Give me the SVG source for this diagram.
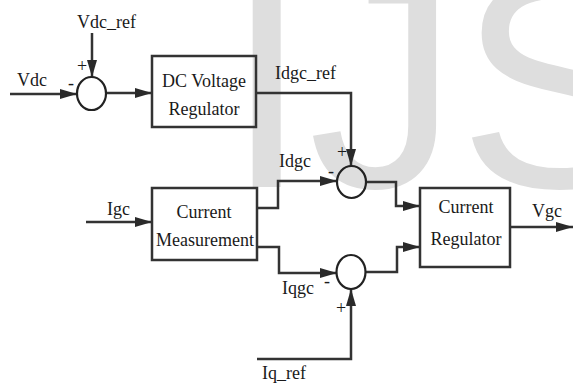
<svg xmlns="http://www.w3.org/2000/svg" width="573" height="390" viewBox="0 0 573 390">
  <defs>
    <marker id="arr" markerUnits="userSpaceOnUse" markerWidth="17" markerHeight="10" refX="17" refY="5" orient="auto">
      <path d="M0,0 L17,5 L0,10 z" fill="#2a2a2a"/>
    </marker>
    <style>
      .wm { font-family: "Liberation Sans", Arial, sans-serif; font-size: 300px; fill: #dedede; }
      .lbl { font-family: "Liberation Serif", "Times New Roman", serif; font-size: 18px; fill: #1a1a1a; }
      .mid { text-anchor: middle; }
      .box { fill: none; stroke: #333; stroke-width: 2.5; }
      .sum { fill: none; stroke: #222; stroke-width: 2.2; }
      .wire { fill: none; stroke: #333; stroke-width: 2.5; marker-end: url(#arr); }
    </style>
  </defs>
  <rect x="0" y="0" width="573" height="390" fill="#fff"/>
  <g id="watermark">
    <text class="wm" x="225" y="187">IJS</text>
  </g>
  <g id="connectors">
    <path class="wire" d="M10,94 L77,94"/>
    <path class="wire" d="M92,33 L92,77"/>
    <path class="wire" d="M106,93 L152,93"/>
    <path class="wire" d="M256,93 L351,93 L351,166"/>
    <path class="wire" d="M86,222 L152,222"/>
    <path class="wire" d="M257,208 L278,208 L278,181 L337,181"/>
    <path class="wire" d="M257,247 L279,247 L279,273 L337,273"/>
    <path class="wire" d="M366,182 L396,182 L396,206 L420,206"/>
    <path class="wire" d="M366,272 L397,272 L397,247 L420,247"/>
    <path class="wire" d="M510,227 L573,227"/>
    <path class="wire" d="M257,359 L351,359 L351,289"/>
  </g>
  <g id="labels" font-family="Liberation Serif, serif">
    <text class="lbl" x="17" y="86">Vdc</text>
    <text class="lbl" x="77" y="28">Vdc_ref</text>
    <text class="lbl" x="275" y="79">Idgc_ref</text>
    <text class="lbl" x="279" y="167">Idgc</text>
    <text class="lbl" x="107" y="215">Igc</text>
    <text class="lbl" x="532" y="217">Vgc</text>
    <text class="lbl" x="282" y="294">Iqgc</text>
    <text class="lbl" x="262" y="379">Iq_ref</text>
  </g>
  <g id="sum1" font-family="Liberation Serif, serif">
    <ellipse class="sum" cx="91.5" cy="93.5" rx="14.5" ry="16.5"/>
    <text class="lbl mid" x="82" y="72">+</text>
    <text class="lbl mid" x="71" y="89">-</text>
  </g>
  <g id="dc_voltage_regulator" font-family="Liberation Serif, serif">
    <rect class="box" x="152" y="56" width="104" height="71"/>
    <text class="lbl mid" x="204" y="87">DC Voltage</text>
    <text class="lbl mid" x="204" y="115">Regulator</text>
  </g>
  <g id="current_measurement" font-family="Liberation Serif, serif">
    <rect class="box" x="152" y="188" width="105" height="72"/>
    <text class="lbl mid" x="204" y="218">Current</text>
    <text class="lbl mid" x="205" y="246">Measurement</text>
  </g>
  <g id="sum2" font-family="Liberation Serif, serif">
    <ellipse class="sum" cx="351.5" cy="182" rx="14.5" ry="16"/>
    <text class="lbl mid" x="342" y="158">+</text>
    <text class="lbl mid" x="331" y="177">-</text>
  </g>
  <g id="sum3" font-family="Liberation Serif, serif">
    <ellipse class="sum" cx="351" cy="272" rx="14.5" ry="17"/>
    <text class="lbl mid" x="327" y="287">-</text>
    <text class="lbl mid" x="341" y="314">+</text>
  </g>
  <g id="current_regulator" font-family="Liberation Serif, serif">
    <rect class="box" x="420" y="188" width="90" height="79"/>
    <text class="lbl mid" x="466" y="213">Current</text>
    <text class="lbl mid" x="466" y="245">Regulator</text>
  </g>
</svg>
